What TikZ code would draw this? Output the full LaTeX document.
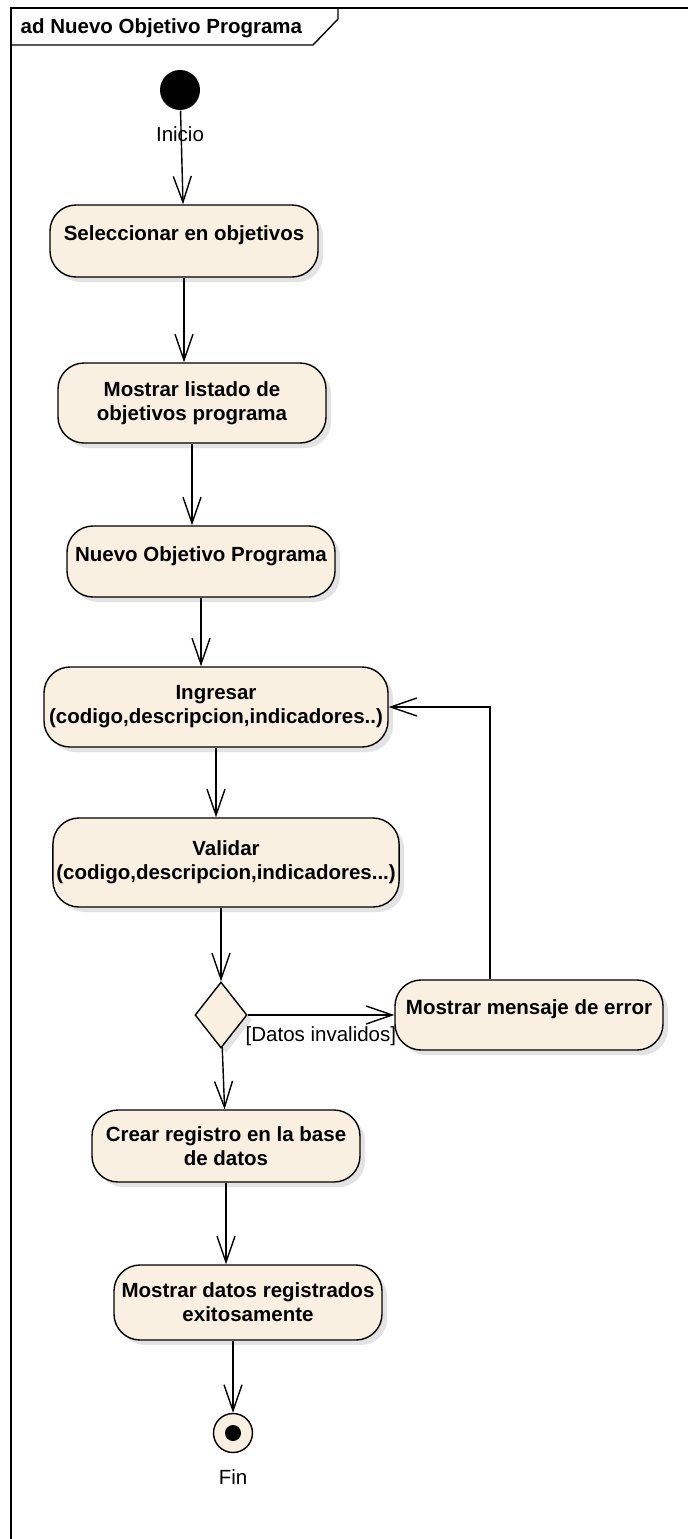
\documentclass[tikz,border=0pt]{standalone}
\usepackage[svgnames]{xcolor}
\usepackage{fontspec}
\setmainfont{Liberation Sans}
\usepackage{tikz}
\usetikzlibrary{shapes.geometric}
\usetikzlibrary{shadows}
\usetikzlibrary{arrows.meta}

\definecolor{actfill}{RGB}{250,240,226}

\begin{document}
\begin{tikzpicture}[x=1pt,y=-1pt,
  font=\fontsize{20.5}{24}\selectfont,
  line width=1.4pt,
  actn/.style={draw, rounded corners=26pt, fill=actfill, align=center,
    font=\fontsize{20.5}{24}\selectfont\bfseries,
    minimum width=268pt, minimum height=72pt,
    drop shadow={shadow xshift=5pt, shadow yshift=-5pt, fill=black!22}},
  onel/.style={text height=15pt, text depth=16pt},
  decn/.style={draw, diamond, fill=actfill, inner sep=0pt,
    minimum width=52pt, minimum height=66pt,
    drop shadow={shadow xshift=5pt, shadow yshift=-5pt, fill=black!22}},
  initn/.style={circle, fill=black, minimum size=40pt, inner sep=0pt},
  finn/.style={circle, draw, fill=actfill, minimum size=39pt, inner sep=0pt},
  textn/.style={inner sep=0pt},
  flow/.style={-{Straight Barb[length=26pt,width=18pt]}}]
  \useasboundingbox (0,0) rectangle (688,1539);
  \draw (11,1539) -- (11,8) -- (688,8);
  \draw (11,45) -- (313,45) -- (338,19) -- (338,8);
  \node[textn, anchor=base west, font=\fontsize{20.5}{24}\selectfont\bfseries] (title) at (20,33) {ad Nuevo Objetivo Programa};

  \node[initn] (start) at (180,90) {};
  \node[textn] (inicio) at (180,134) {Inicio};
  \node[actn, onel] (sel) at (184,241) {Seleccionar en objetivos};
  \node[actn, minimum height=80pt] (lst) at (192,403) {Mostrar listado de\\objetivos programa};
  \node[actn, onel, minimum height=71pt] (nvo) at (201,561.5) {Nuevo Objetivo Programa};
  \node[actn, minimum width=344pt, minimum height=80pt] (ing) at (216,707) {Ingresar\\(codigo,descripcion,indicadores..)};
  \node[actn, minimum width=346pt, minimum height=89pt] (val) at (226,862.5) {Validar\\(codigo,descripcion,indicadores...)};
  \node[decn] (dec) at (221,1015) {};
  \node[actn, onel, minimum height=70pt] (err) at (529,1015) {Mostrar mensaje de error};
  \node[textn, anchor=west] (guard) at (245,1036) {[Datos invalidos]};
  \node[actn] (reg) at (226,1146) {Crear registro en la base\\de datos};
  \node[actn, minimum height=75pt] (ok) at (248,1302.5) {Mostrar datos registrados\\exitosamente};
  \node[finn] (fin) at (233,1433) {};
  \fill (fin.center) circle (8);
  \node[textn] (fintxt) at (233,1477) {Fin};

  \draw[flow] (start) -- (sel);
  \draw[flow] (sel.south) -- (sel.south |- lst.north);
  \draw[flow] (lst.south) -- (lst.south |- nvo.north);
  \draw[flow] (nvo.south) -- (nvo.south |- ing.north);
  \draw[flow] (ing.south) -- (ing.south |- val.north);
  \draw[flow] (dec.north |- val.south) -- (dec.north);
  \draw[flow] (dec.east) -- (err.west);
  \draw[flow] (dec) -- (reg);
  \draw[flow] (reg.south) -- (reg.south |- ok.north);
  \draw[flow] (fin.north |- ok.south) -- (fin);
  \draw[flow] ([xshift=-39pt]err.north) |- (ing.east);
\end{tikzpicture}
\end{document}
